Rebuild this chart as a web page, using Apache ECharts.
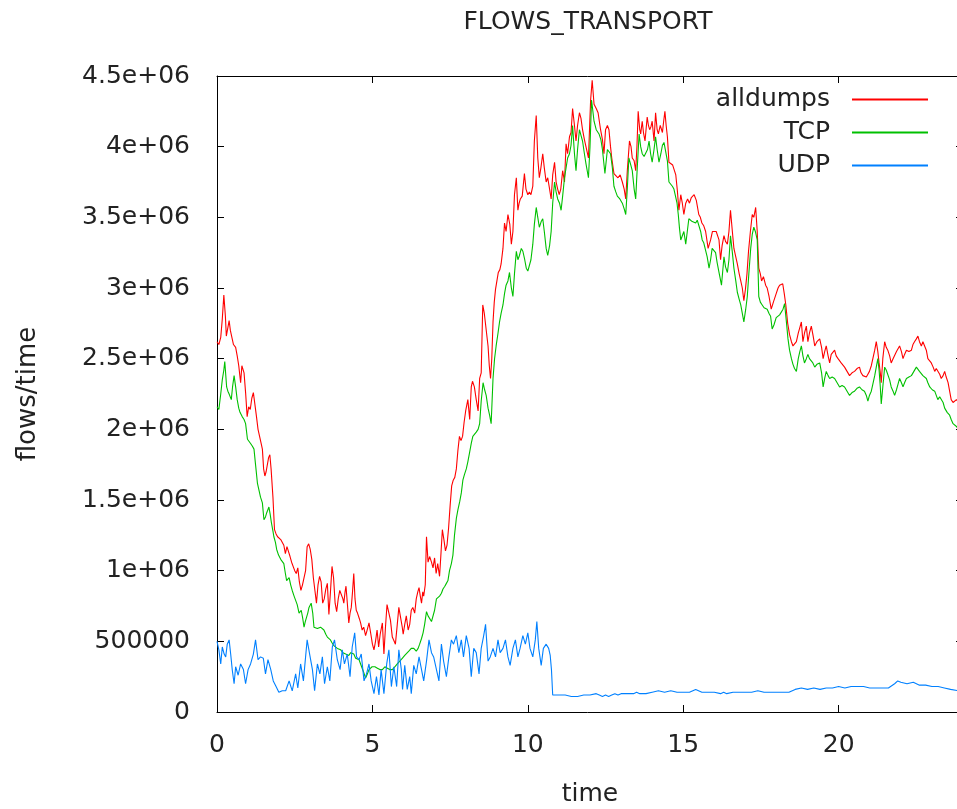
<!DOCTYPE html>
<html>
<head>
<meta charset="utf-8">
<script src="https://cdn.jsdelivr.net/npm/echarts@6/dist/echarts.min.js"></script>
<style>
html,body{margin:0;padding:0;background:#fff;}
#c{width:957px;height:809px;}
</style>
</head>
<body>
<div id="c"></div>
<script>
// ---- data (time in hours, values in millions of flows/time) ----
var seriesNames = ['alldumps', 'TCP', 'UDP'];
var xTickLabels = ['0', '5', '10', '15', '20'];
var yTickLabels = ['0', '500000', '1e+06', '1.5e+06', '2e+06', '2.5e+06', '3e+06', '3.5e+06', '4e+06', '4.5e+06'];

var alldumpsMillions = [
[0,2.62],[0.06,2.6],[0.12,2.65],[0.17,2.78],[0.22,2.95],[0.27,2.8],[0.3,2.66],[0.35,2.72],[0.39,2.77],[0.43,2.7],
[0.47,2.66],[0.53,2.6],[0.6,2.58],[0.65,2.52],[0.7,2.45],[0.76,2.33],[0.8,2.45],[0.87,2.4],[0.92,2.26],[0.97,2.09],
[1.02,2.16],[1.07,2.14],[1.12,2.22],[1.17,2.26],[1.22,2.27],[1.27,2.09],[1.32,2.0],[1.37,1.95],[1.42,1.9],[1.46,1.86],
[1.5,1.72],[1.54,1.67],[1.58,1.7],[1.62,1.71],[1.66,1.8],[1.7,1.82],[1.74,1.72],[1.8,1.52],[1.85,1.29],[1.9,1.26],
[1.95,1.24],[2.0,1.25],[2.05,1.22],[2.1,1.22],[2.15,1.18],[2.2,1.12],[2.25,1.17],[2.3,1.16],[2.35,1.1],[2.4,1.06],
[2.45,1.05],[2.5,1.0],[2.55,0.98],[2.6,1.02],[2.65,0.92],[2.7,0.86],[2.75,0.9],[2.8,0.89],[2.85,1.0],[2.9,1.17],
[2.95,1.19],[3.0,1.15],[3.05,1.08],[3.1,0.95],[3.15,0.86],[3.2,0.77],[3.25,0.9],[3.3,0.96],[3.35,0.92],[3.4,0.77],
[3.45,0.8],[3.5,0.87],[3.55,0.91],[3.6,0.69],[3.65,0.85],[3.7,1.03],[3.75,0.95],[3.8,0.77],[3.85,0.71],[3.9,0.8],
[3.95,0.86],[4.0,0.86],[4.05,0.8],[4.08,0.77],[4.12,0.85],[4.15,0.89],[4.2,0.75],[4.24,0.63],[4.28,0.7],[4.32,0.74],
[4.36,0.85],[4.4,0.98],[4.44,0.8],[4.48,0.72],[4.52,0.7],[4.58,0.66],[4.62,0.63],[4.67,0.58],[4.72,0.6],[4.78,0.54],
[4.83,0.58],[4.89,0.63],[4.95,0.55],[5.0,0.48],[5.05,0.44],[5.1,0.5],[5.15,0.58],[5.2,0.46],[5.25,0.55],[5.32,0.63],
[5.37,0.41],[5.42,0.6],[5.47,0.76],[5.52,0.77],[5.58,0.65],[5.64,0.53],[5.7,0.5],[5.74,0.48],[5.8,0.62],[5.85,0.74],
[5.9,0.74],[5.96,0.6],[5.99,0.55],[6.04,0.62],[6.09,0.68],[6.15,0.58],[6.2,0.62],[6.25,0.72],[6.3,0.74],[6.36,0.7],
[6.41,0.8],[6.46,0.85],[6.5,0.88],[6.54,0.82],[6.58,0.77],[6.62,0.85],[6.65,0.82],[6.7,0.9],[6.74,1.24],[6.79,1.06],
[6.84,1.1],[6.9,1.06],[6.95,1.02],[7.0,1.09],[7.05,0.98],[7.1,1.05],[7.16,0.96],[7.2,1.1],[7.25,1.29],[7.3,1.22],
[7.35,1.14],[7.4,1.18],[7.45,1.3],[7.5,1.46],[7.55,1.6],[7.6,1.64],[7.65,1.66],[7.7,1.72],[7.75,1.85],[7.8,1.95],
[7.85,1.92],[7.9,1.95],[7.95,2.05],[8.0,2.13],[8.07,2.21],[8.13,2.07],[8.18,2.3],[8.22,2.34],[8.28,2.3],[8.34,2.21],
[8.4,2.13],[8.45,2.36],[8.5,2.4],[8.55,2.88],[8.6,2.82],[8.66,2.82],[8.72,2.59],[8.76,2.45],[8.8,2.36],[8.84,2.5],
[8.88,2.76],[8.92,2.9],[8.96,2.99],[9.0,3.0],[9.05,3.11],[9.1,3.13],[9.14,3.17],[9.2,3.28],[9.25,3.46],[9.3,3.4],
[9.36,3.52],[9.42,3.45],[9.47,3.31],[9.52,3.4],[9.57,3.66],[9.63,3.78],[9.68,3.55],[9.72,3.6],[9.76,3.63],[9.82,3.65],
[9.89,3.81],[9.94,3.7],[10.0,3.66],[10.05,3.68],[10.1,3.66],[10.16,3.72],[10.21,4.04],[10.27,4.22],[10.32,3.92],[10.37,3.78],
[10.42,3.85],[10.48,3.95],[10.53,3.85],[10.59,3.75],[10.64,3.78],[10.7,3.7],[10.75,3.63],[10.8,3.8],[10.86,3.89],[10.91,3.75],
[10.96,3.7],[11.01,3.66],[11.06,3.7],[11.12,3.83],[11.18,3.75],[11.23,4.02],[11.28,3.95],[11.34,4.07],[11.39,4.1],[11.44,4.27],
[11.5,4.15],[11.55,4.04],[11.6,4.15],[11.66,4.24],[11.71,4.2],[11.76,4.12],[11.82,4.05],[11.87,4.0],[11.95,3.92],[12.02,4.33],
[12.07,4.47],[12.13,4.3],[12.2,4.27],[12.26,4.24],[12.34,4.12],[12.4,4.05],[12.45,3.95],[12.5,4.12],[12.56,4.15],[12.61,4.12],
[12.66,4.0],[12.7,3.92],[12.77,3.81],[12.83,3.8],[12.9,3.78],[12.97,3.8],[13.04,3.75],[13.1,3.7],[13.15,3.63],[13.2,3.83],
[13.27,4.04],[13.32,4.0],[13.36,3.92],[13.42,3.9],[13.47,3.83],[13.51,4.0],[13.55,4.25],[13.6,4.12],[13.63,4.09],[13.68,4.18],
[13.72,4.1],[13.77,4.04],[13.84,4.21],[13.88,4.15],[13.92,4.12],[13.96,4.14],[14.0,4.18],[14.06,4.04],[14.11,4.24],[14.16,4.12],
[14.2,4.09],[14.26,4.15],[14.33,4.1],[14.37,4.18],[14.41,4.25],[14.45,4.15],[14.49,4.07],[14.54,3.89],[14.6,3.88],[14.66,3.87],
[14.7,3.86],[14.76,3.8],[14.81,3.69],[14.86,3.55],[14.92,3.66],[14.97,3.6],[15.02,3.52],[15.08,3.6],[15.14,3.63],[15.2,3.6],
[15.26,3.64],[15.35,3.66],[15.42,3.62],[15.5,3.52],[15.55,3.5],[15.6,3.46],[15.66,3.44],[15.72,3.4],[15.8,3.28],[15.88,3.34],
[15.94,3.4],[16.0,3.41],[16.06,3.4],[16.15,3.34],[16.2,3.2],[16.25,3.3],[16.31,3.37],[16.36,3.33],[16.42,3.31],[16.47,3.4],
[16.52,3.55],[16.58,3.4],[16.63,3.28],[16.69,3.22],[16.74,3.17],[16.8,3.1],[16.85,3.05],[16.9,3.0],[16.95,2.91],[17.0,2.99],
[17.05,3.1],[17.1,3.26],[17.16,3.4],[17.22,3.52],[17.27,3.5],[17.33,3.57],[17.38,3.4],[17.43,3.14],[17.48,3.1],[17.52,3.05],
[17.58,3.08],[17.65,3.02],[17.7,3.0],[17.76,2.94],[17.83,2.85],[17.9,2.9],[17.99,2.96],[18.05,3.0],[18.1,3.02],[18.2,3.03],
[18.25,2.96],[18.3,2.88],[18.36,2.75],[18.42,2.67],[18.48,2.62],[18.53,2.59],[18.58,2.6],[18.64,2.62],[18.7,2.68],[18.75,2.72],
[18.8,2.76],[18.85,2.62],[18.9,2.68],[18.96,2.73],[19.01,2.62],[19.06,2.68],[19.12,2.73],[19.18,2.66],[19.23,2.59],[19.3,2.62],
[19.39,2.64],[19.45,2.58],[19.5,2.5],[19.55,2.55],[19.6,2.59],[19.66,2.52],[19.71,2.47],[19.76,2.53],[19.82,2.54],[19.87,2.56],
[19.92,2.52],[19.98,2.5],[20.03,2.49],[20.08,2.47],[20.14,2.46],[20.19,2.44],[20.27,2.41],[20.35,2.38],[20.43,2.4],[20.51,2.41],
[20.59,2.43],[20.67,2.44],[20.72,2.4],[20.78,2.38],[20.84,2.39],[20.89,2.37],[20.94,2.39],[20.99,2.41],[21.05,2.45],[21.1,2.5],
[21.16,2.56],[21.21,2.62],[21.26,2.55],[21.3,2.47],[21.34,2.4],[21.37,2.33],[21.42,2.5],[21.48,2.62],[21.53,2.58],[21.58,2.56],
[21.64,2.52],[21.69,2.47],[21.75,2.5],[21.8,2.5],[21.86,2.55],[21.91,2.57],[21.96,2.59],[22.02,2.55],[22.07,2.5],[22.12,2.53],
[22.18,2.56],[22.26,2.55],[22.34,2.56],[22.39,2.6],[22.44,2.62],[22.5,2.64],[22.55,2.66],[22.6,2.62],[22.66,2.59],[22.71,2.62],
[22.76,2.62],[22.82,2.56],[22.87,2.5],[22.93,2.49],[22.98,2.47],[23.04,2.44],[23.09,2.41],[23.14,2.43],[23.19,2.44],[23.25,2.39],
[23.3,2.36],[23.36,2.38],[23.41,2.41],[23.46,2.37],[23.52,2.33],[23.57,2.27],[23.62,2.21],[23.68,2.19],[23.73,2.18],[23.79,2.21],
[23.85,2.2]
];

var tcpMillions = [
[0,2.16],[0.06,2.14],[0.12,2.25],[0.17,2.35],[0.22,2.42],[0.25,2.48],[0.31,2.3],[0.35,2.27],[0.39,2.25],[0.46,2.21],
[0.5,2.3],[0.55,2.38],[0.6,2.3],[0.65,2.21],[0.7,2.15],[0.74,2.12],[0.81,2.09],[0.87,2.07],[0.92,2.04],[0.98,1.93],
[1.03,1.92],[1.08,1.9],[1.14,1.88],[1.19,1.86],[1.24,1.75],[1.3,1.62],[1.35,1.57],[1.4,1.52],[1.46,1.48],[1.51,1.36],
[1.56,1.38],[1.6,1.41],[1.67,1.45],[1.71,1.4],[1.75,1.34],[1.8,1.28],[1.83,1.24],[1.88,1.2],[1.92,1.15],[1.98,1.11],
[2.05,1.08],[2.1,1.07],[2.15,1.05],[2.2,0.98],[2.24,0.93],[2.32,0.95],[2.37,0.9],[2.42,0.86],[2.48,0.82],[2.53,0.79],
[2.58,0.76],[2.64,0.7],[2.71,0.72],[2.76,0.66],[2.8,0.6],[2.84,0.64],[2.88,0.67],[2.92,0.7],[2.96,0.74],[3.03,0.77],
[3.08,0.7],[3.12,0.6],[3.18,0.59],[3.23,0.59],[3.28,0.6],[3.33,0.6],[3.38,0.59],[3.44,0.58],[3.5,0.55],[3.55,0.53],
[3.6,0.53],[3.65,0.51],[3.7,0.49],[3.76,0.47],[3.82,0.46],[3.87,0.45],[3.92,0.44],[3.98,0.44],[4.05,0.42],[4.14,0.41],
[4.2,0.4],[4.24,0.4],[4.3,0.42],[4.35,0.43],[4.4,0.41],[4.46,0.38],[4.52,0.38],[4.57,0.37],[4.62,0.34],[4.67,0.31],
[4.72,0.28],[4.78,0.24],[4.84,0.27],[4.89,0.3],[4.94,0.31],[4.99,0.32],[5.08,0.32],[5.16,0.31],[5.24,0.3],[5.32,0.3],
[5.4,0.32],[5.48,0.31],[5.56,0.3],[5.64,0.3],[5.72,0.32],[5.8,0.34],[5.88,0.36],[5.96,0.38],[6.04,0.4],[6.09,0.41],
[6.17,0.43],[6.25,0.45],[6.33,0.45],[6.41,0.43],[6.47,0.45],[6.52,0.48],[6.58,0.52],[6.63,0.56],[6.68,0.62],[6.74,0.71],
[6.79,0.68],[6.84,0.67],[6.9,0.64],[6.95,0.65],[7.0,0.72],[7.06,0.8],[7.11,0.79],[7.16,0.82],[7.22,0.84],[7.27,0.87],
[7.33,0.89],[7.38,0.91],[7.43,0.93],[7.48,1.0],[7.54,1.05],[7.59,1.11],[7.64,1.25],[7.7,1.37],[7.75,1.43],[7.81,1.49],
[7.86,1.55],[7.91,1.64],[7.96,1.68],[8.02,1.72],[8.07,1.77],[8.13,1.84],[8.18,1.9],[8.23,1.95],[8.29,1.96],[8.34,1.98],
[8.4,2.0],[8.45,2.04],[8.5,2.2],[8.56,2.33],[8.61,2.28],[8.66,2.24],[8.72,2.15],[8.77,2.1],[8.82,2.04],[8.88,2.36],
[8.93,2.5],[8.98,2.59],[9.04,2.68],[9.09,2.76],[9.14,2.82],[9.2,2.88],[9.25,2.96],[9.3,3.02],[9.36,3.05],[9.41,3.11],
[9.47,3.0],[9.52,2.94],[9.57,3.1],[9.63,3.26],[9.68,3.2],[9.73,3.23],[9.79,3.28],[9.84,3.26],[9.9,3.2],[9.95,3.14],
[10.0,3.12],[10.05,3.11],[10.1,3.2],[10.16,3.31],[10.21,3.45],[10.27,3.57],[10.32,3.5],[10.37,3.43],[10.43,3.47],[10.48,3.49],
[10.53,3.4],[10.59,3.28],[10.64,3.23],[10.7,3.3],[10.75,3.4],[10.8,3.6],[10.86,3.75],[10.91,3.68],[10.96,3.63],[11.02,3.6],
[11.07,3.55],[11.12,3.65],[11.18,3.78],[11.23,3.85],[11.28,3.92],[11.34,3.95],[11.39,4.01],[11.44,4.15],[11.5,3.95],[11.55,3.83],
[11.6,3.98],[11.66,4.12],[11.71,4.08],[11.76,4.04],[11.82,3.95],[11.87,3.88],[11.95,3.78],[12.0,4.0],[12.05,4.33],[12.13,4.18],
[12.2,4.12],[12.29,4.09],[12.35,4.05],[12.4,3.98],[12.48,3.81],[12.56,3.98],[12.61,3.97],[12.66,3.95],[12.72,3.85],[12.77,3.72],
[12.83,3.68],[12.88,3.65],[12.96,3.63],[13.04,3.6],[13.1,3.56],[13.15,3.52],[13.2,3.7],[13.25,3.92],[13.3,3.88],[13.36,3.83],
[13.42,3.7],[13.47,3.63],[13.52,3.85],[13.58,4.09],[13.63,4.0],[13.68,3.95],[13.74,3.93],[13.79,3.92],[13.85,3.98],[13.9,4.04],
[13.95,3.95],[14.0,3.89],[14.06,3.98],[14.11,4.07],[14.16,3.98],[14.22,3.89],[14.28,3.95],[14.33,4.01],[14.38,4.03],[14.43,4.04],
[14.49,3.9],[14.54,3.75],[14.6,3.74],[14.65,3.72],[14.7,3.7],[14.75,3.69],[14.8,3.6],[14.84,3.52],[14.88,3.42],[14.92,3.34],
[14.97,3.37],[15.02,3.4],[15.08,3.31],[15.13,3.4],[15.18,3.49],[15.24,3.48],[15.29,3.47],[15.35,3.46],[15.4,3.46],[15.45,3.48],
[15.5,3.49],[15.56,3.4],[15.61,3.34],[15.66,3.32],[15.72,3.31],[15.77,3.22],[15.83,3.14],[15.88,3.2],[15.93,3.28],[15.98,3.27],
[16.04,3.25],[16.09,3.18],[16.15,3.11],[16.23,3.02],[16.31,3.22],[16.36,3.15],[16.42,3.11],[16.47,3.2],[16.52,3.37],[16.58,3.25],
[16.63,3.14],[16.69,3.05],[16.74,2.97],[16.8,2.92],[16.85,2.88],[16.9,2.82],[16.95,2.76],[17.01,2.85],[17.06,2.94],[17.11,3.1],
[17.17,3.28],[17.22,3.38],[17.27,3.43],[17.32,3.4],[17.38,3.34],[17.43,2.94],[17.48,2.9],[17.54,2.88],[17.6,2.86],[17.65,2.87],
[17.7,2.85],[17.76,2.82],[17.81,2.8],[17.86,2.71],[17.92,2.74],[17.99,2.79],[18.05,2.8],[18.1,2.81],[18.16,2.82],[18.21,2.85],
[18.26,2.89],[18.31,2.78],[18.37,2.64],[18.42,2.56],[18.48,2.5],[18.53,2.46],[18.58,2.43],[18.64,2.41],[18.7,2.5],[18.75,2.55],
[18.8,2.59],[18.85,2.52],[18.9,2.47],[18.96,2.5],[19.01,2.53],[19.06,2.5],[19.12,2.5],[19.17,2.47],[19.23,2.44],[19.3,2.46],
[19.39,2.47],[19.45,2.4],[19.5,2.3],[19.55,2.36],[19.6,2.41],[19.66,2.38],[19.71,2.36],[19.79,2.37],[19.87,2.36],[19.95,2.33],
[20.03,2.3],[20.11,2.31],[20.19,2.3],[20.27,2.27],[20.35,2.24],[20.43,2.26],[20.51,2.27],[20.59,2.29],[20.67,2.3],[20.75,2.28],
[20.83,2.27],[20.89,2.24],[20.94,2.2],[20.99,2.24],[21.05,2.27],[21.1,2.32],[21.16,2.38],[21.21,2.44],[21.26,2.5],[21.3,2.42],
[21.34,2.3],[21.37,2.18],[21.42,2.3],[21.48,2.44],[21.53,2.42],[21.58,2.41],[21.64,2.35],[21.69,2.3],[21.75,2.27],[21.8,2.24],
[21.86,2.28],[21.91,2.32],[21.96,2.36],[22.02,2.33],[22.07,2.3],[22.12,2.33],[22.18,2.36],[22.26,2.37],[22.34,2.38],[22.42,2.41],
[22.5,2.44],[22.55,2.43],[22.6,2.41],[22.66,2.4],[22.71,2.38],[22.76,2.37],[22.82,2.36],[22.87,2.33],[22.93,2.3],[23.01,2.28],
[23.09,2.27],[23.14,2.24],[23.19,2.21],[23.25,2.23],[23.3,2.24],[23.36,2.19],[23.41,2.15],[23.49,2.12],[23.57,2.1],[23.62,2.07],
[23.68,2.04],[23.73,2.03],[23.79,2.02],[23.85,2.0]
];

var udpMillions = [
[0,0.5],[0.06,0.44],[0.12,0.34],[0.17,0.46],[0.23,0.41],[0.28,0.39],[0.33,0.48],[0.39,0.51],[0.44,0.41],[0.49,0.3],
[0.55,0.2],[0.6,0.32],[0.68,0.26],[0.76,0.34],[0.85,0.3],[0.92,0.2],[1.0,0.3],[1.08,0.34],[1.17,0.41],[1.24,0.51],
[1.32,0.37],[1.4,0.39],[1.49,0.38],[1.56,0.27],[1.64,0.37],[1.73,0.3],[1.81,0.22],[1.9,0.18],[1.99,0.14],[2.1,0.15],
[2.21,0.15],[2.32,0.22],[2.42,0.15],[2.53,0.27],[2.6,0.17],[2.69,0.34],[2.78,0.22],[2.85,0.39],[2.9,0.51],[2.98,0.41],
[3.07,0.3],[3.14,0.15],[3.23,0.34],[3.31,0.27],[3.39,0.39],[3.46,0.2],[3.55,0.32],[3.63,0.22],[3.71,0.46],[3.78,0.51],
[3.87,0.37],[3.96,0.3],[4.03,0.44],[4.1,0.34],[4.19,0.41],[4.28,0.25],[4.35,0.46],[4.43,0.56],[4.49,0.39],[4.57,0.37],
[4.64,0.41],[4.73,0.22],[4.81,0.27],[4.89,0.34],[4.96,0.22],[5.05,0.13],[5.13,0.25],[5.21,0.12],[5.28,0.3],[5.37,0.13],
[5.46,0.34],[5.53,0.44],[5.61,0.18],[5.69,0.32],[5.78,0.18],[5.85,0.44],[5.93,0.3],[5.97,0.16],[6.04,0.33],[6.12,0.16],
[6.2,0.25],[6.25,0.13],[6.33,0.33],[6.41,0.27],[6.5,0.39],[6.58,0.3],[6.65,0.22],[6.74,0.36],[6.82,0.51],[6.9,0.42],
[6.97,0.39],[7.06,0.3],[7.14,0.22],[7.22,0.48],[7.29,0.36],[7.38,0.25],[7.46,0.39],[7.54,0.51],[7.61,0.48],[7.7,0.54],
[7.78,0.42],[7.86,0.51],[7.93,0.39],[8.02,0.54],[8.11,0.45],[8.18,0.25],[8.26,0.45],[8.34,0.42],[8.43,0.27],[8.5,0.45],
[8.58,0.54],[8.64,0.62],[8.72,0.36],[8.79,0.39],[8.88,0.45],[8.96,0.39],[9.04,0.51],[9.11,0.42],[9.2,0.45],[9.28,0.51],
[9.36,0.39],[9.43,0.33],[9.52,0.45],[9.6,0.51],[9.68,0.39],[9.75,0.45],[9.84,0.54],[9.92,0.48],[10.0,0.56],[10.07,0.45],
[10.16,0.39],[10.24,0.51],[10.29,0.64],[10.35,0.45],[10.43,0.33],[10.5,0.45],[10.59,0.48],[10.67,0.45],[10.72,0.4],[10.76,0.3],
[10.8,0.12],[11.0,0.12],[11.2,0.12],[11.4,0.11],[11.6,0.11],[11.8,0.12],[12.0,0.12],[12.2,0.13],[12.3,0.12],[12.4,0.11],
[12.5,0.12],[12.6,0.11],[12.7,0.12],[12.8,0.13],[12.9,0.12],[13.0,0.13],[13.2,0.13],[13.4,0.13],[13.5,0.14],[13.6,0.13],
[13.8,0.13],[14.0,0.14],[14.2,0.15],[14.4,0.14],[14.6,0.15],[14.8,0.14],[15.0,0.14],[15.2,0.14],[15.4,0.16],[15.6,0.14],
[15.8,0.14],[16.0,0.14],[16.2,0.13],[16.3,0.14],[16.4,0.13],[16.6,0.14],[16.8,0.14],[17.0,0.14],[17.2,0.14],[17.4,0.15],
[17.6,0.14],[17.8,0.14],[18.0,0.14],[18.2,0.14],[18.4,0.14],[18.6,0.16],[18.8,0.17],[19.0,0.16],[19.2,0.17],[19.4,0.16],
[19.6,0.17],[19.8,0.17],[20.0,0.18],[20.2,0.17],[20.4,0.18],[20.6,0.18],[20.8,0.18],[21.0,0.17],[21.2,0.17],[21.4,0.17],
[21.6,0.17],[21.8,0.2],[21.9,0.22],[22.0,0.21],[22.2,0.2],[22.4,0.21],[22.6,0.19],[22.8,0.19],[23.0,0.18],[23.2,0.18],
[23.4,0.17],[23.6,0.16],[23.85,0.15]
];

// ---- chart ----
var FONT = 'DejaVu Sans';
var TXT = '#222';
var FS = 25;
var chart = echarts.init(document.getElementById('c'), null, {renderer: 'canvas'});

function baseX(extra) {
  var o = {
    type: 'value', min: 0, max: 24, interval: 5,
    axisLine: {show: true, onZero: false, lineStyle: {color: '#000', width: 1}},
    axisTick: {show: true, inside: true, length: 7, lineStyle: {color: '#000', width: 1}},
    splitLine: {show: false}
  };
  for (var k in extra) o[k] = extra[k];
  return o;
}
function baseY(extra) {
  var o = {
    type: 'value', min: 0, max: 4.5, interval: 0.5,
    axisLine: {show: true, onZero: false, lineStyle: {color: '#000', width: 1}},
    axisTick: {show: true, inside: true, length: 7, lineStyle: {color: '#000', width: 1}},
    splitLine: {show: false}
  };
  for (var k in extra) o[k] = extra[k];
  return o;
}

var option = {
  animation: false,
  backgroundColor: '#fff',
  title: {
    text: 'FLOWS_TRANSPORT', left: 588, top: 10, textAlign: 'center', padding: 0,
    textStyle: {fontFamily: FONT, fontSize: FS, fontWeight: 'normal', color: TXT}
  },
  legend: {
    orient: 'vertical', right: 29, top: 87, align: 'right', padding: 0,
    itemWidth: 76, itemHeight: 2, itemGap: 8, icon: 'rect',
    selectedMode: false,
    textStyle: {fontFamily: FONT, fontSize: FS, color: TXT, padding: [0, 17, 0, 0]},
    data: seriesNames
  },
  grid: {left: 217, top: 76, width: 746, height: 636, containLabel: false, outerBoundsMode: 'none'},
  xAxis: [
    baseX({
      position: 'bottom',
      name: 'time', nameLocation: 'middle', nameGap: 70,
      nameTextStyle: {fontFamily: FONT, fontSize: FS, color: TXT},
      axisLabel: {
        margin: 21, fontFamily: FONT, fontSize: FS, color: TXT, showMaxLabel: false,
        formatter: function (v) { return (v % 5 === 0 && v / 5 < xTickLabels.length) ? xTickLabels[v / 5] : ''; }
      }
    }),
    baseX({position: 'top', axisLabel: {show: false}})
  ],
  yAxis: [
    baseY({
      position: 'left',
      name: 'flows/time', nameLocation: 'middle', nameGap: 176, nameRotate: 90,
      nameTextStyle: {fontFamily: FONT, fontSize: 26, color: TXT},
      axisLabel: {
        margin: 27, fontFamily: FONT, fontSize: FS, color: TXT,
        formatter: function (v) { return yTickLabels[Math.round(v / 0.5)]; }
      }
    }),
    baseY({position: 'right', axisLabel: {show: false}})
  ],
  series: [
    {name: seriesNames[0], type: 'line', data: alldumpsMillions, showSymbol: false, symbol: 'none', silent: true,
     color: '#ff0000', lineStyle: {width: 1.1, color: '#ff0000'}, xAxisIndex: 0, yAxisIndex: 0},
    {name: seriesNames[1], type: 'line', data: tcpMillions, showSymbol: false, symbol: 'none', silent: true,
     color: '#00c000', lineStyle: {width: 1.1, color: '#00c000'}, xAxisIndex: 0, yAxisIndex: 0},
    {name: seriesNames[2], type: 'line', data: udpMillions, showSymbol: false, symbol: 'none', silent: true,
     color: '#0080ff', lineStyle: {width: 1.1, color: '#0080ff'}, xAxisIndex: 0, yAxisIndex: 0}
  ]
};
chart.setOption(option);
</script>
</body>
</html>
